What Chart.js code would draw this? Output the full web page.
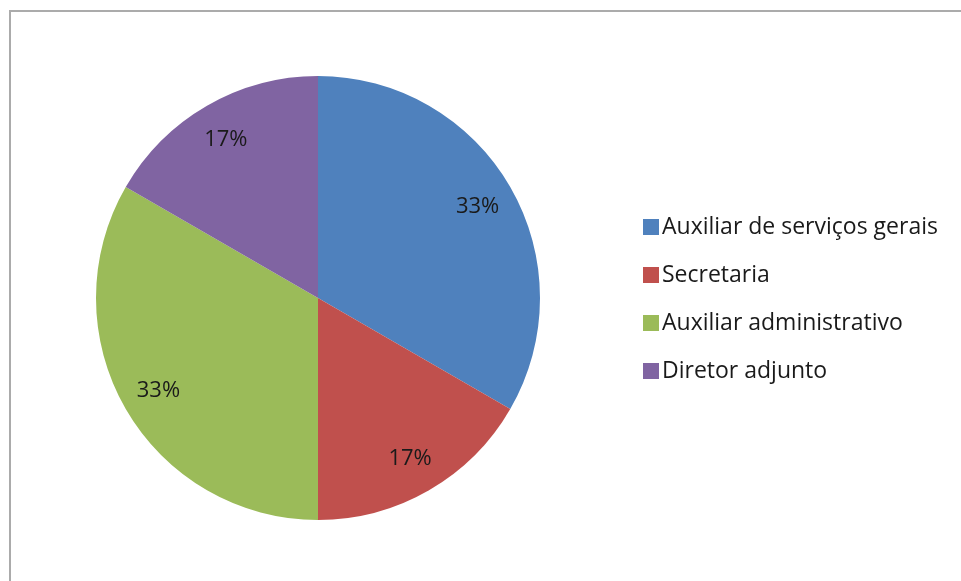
<!DOCTYPE html>
<html>
<head>
<meta charset="utf-8">
<script src="https://cdn.jsdelivr.net/npm/chart.js@4.4.1/dist/chart.umd.min.js"></script>
<style>
  html, body { margin: 0; padding: 0; background: #fff; }
  #wrap { width: 961px; height: 581px; position: relative; }
</style>
</head>
<body>
<div id="wrap"><canvas id="pieChart" width="961" height="581"></canvas></div>
<script>
// Dados do gráfico
const cargos = ['Auxiliar de serviços gerais', 'Secretaria', 'Auxiliar administrativo', 'Diretor adjunto'];
const quantidades = [2, 1, 2, 1];
const cores = ['#4F81BD', '#C0504D', '#9BBB59', '#8064A2'];

const fonte = '"Open Sans", Lato, sans-serif';

// Moldura cinza (como no Excel)
const moldura = {
  id: 'moldura',
  beforeDraw(chart) {
    const ctx = chart.ctx;
    ctx.save();
    ctx.strokeStyle = '#ababab';
    ctx.lineWidth = 2;
    ctx.strokeRect(10, 11, 1200, 1200);
    ctx.restore();
  }
};

// Rótulos de porcentagem dentro das fatias
const rotulos = {
  id: 'rotulos',
  afterDatasetsDraw(chart) {
    const ctx = chart.ctx;
    const total = quantidades.reduce((a, b) => a + b, 0);
    ctx.save();
    ctx.font = '22px ' + fonte;
    ctx.fillStyle = '#1a1a1a';
    ctx.textAlign = 'center';
    ctx.textBaseline = 'middle';
    chart.getDatasetMeta(0).data.forEach((arc, i) => {
      const p = arc.getProps(['x', 'y', 'startAngle', 'endAngle', 'outerRadius'], true);
      const ang = (p.startAngle + p.endAngle) / 2;
      const r = p.outerRadius * 0.83;
      const txt = Math.round(quantidades[i] / total * 100) + '%';
      ctx.fillText(txt, p.x + Math.cos(ang) * r, p.y + Math.sin(ang) * r + 1);
    });
    ctx.restore();
  }
};

// Legenda à direita
const legenda = {
  id: 'legenda',
  afterDraw(chart) {
    const ctx = chart.ctx;
    ctx.save();
    ctx.font = '23px ' + fonte;
    ctx.textBaseline = 'middle';
    cargos.forEach((c, i) => {
      const y = 227 + i * 48;
      ctx.fillStyle = cores[i];
      ctx.fillRect(643, y - 8, 16, 16);
      ctx.fillStyle = '#1a1a1a';
      ctx.fillText(c, 662, y);
    });
    ctx.restore();
  }
};

new Chart(document.getElementById('pieChart'), {
  type: 'pie',
  data: {
    labels: cargos,
    datasets: [{
      data: quantidades,
      backgroundColor: cores,
      borderWidth: 0
    }]
  },
  options: {
    responsive: false,
    animation: false,
    layout: { padding: { left: 96, right: 421, top: 76, bottom: 61 } },
    plugins: {
      legend: { display: false },
      tooltip: { enabled: false }
    }
  },
  plugins: [moldura, rotulos, legenda]
});
</script>
</body>
</html>
